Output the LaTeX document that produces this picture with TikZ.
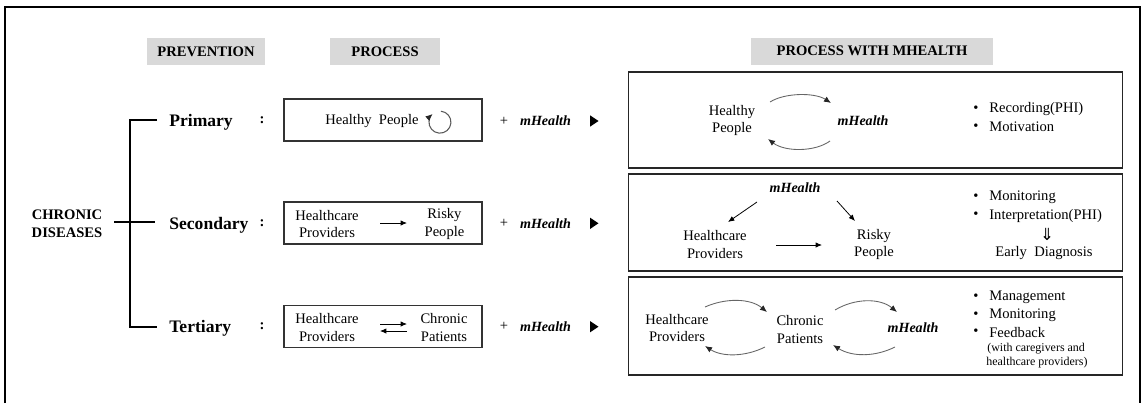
\documentclass[tikz,border=0pt]{standalone}
\usepackage{fontspec}
\setmainfont{Liberation Serif}
\newfontfamily\symfont{DejaVu Sans}
\usetikzlibrary{arrows.meta,calc}
\begin{document}
\begin{tikzpicture}[x=0.02cm,y=-0.02cm,
  font=\fontsize{8.3}{10}\selectfont,
  frame/.style={line width=0.7pt},
  hdr/.style={fill=black!15, font=\bfseries\fontsize{8.3}{10}\selectfont, inner sep=0pt, minimum height=0.54cm},
  pbox/.style={draw=black!80, line width=0.6pt, minimum width=3.96cm, minimum height=0.84cm, inner sep=0pt},
  rbox/.style={draw=black!85, line width=0.6pt, minimum width=9.9cm, inner sep=0pt},
  lvl/.style={font=\bfseries\fontsize{10}{12}\selectfont, anchor=west, inner sep=0pt},
  txt/.style={align=center, inner sep=0pt},
  mh/.style={font=\bfseries\itshape\fontsize{8}{10}\selectfont, inner sep=0pt},
  arr/.style={-{Latex[length=3.6pt,width=3pt]}, line width=0.45pt},
  garr/.style={-{Latex[length=4pt,width=3.4pt,color=black!85]}, line width=0.5pt, draw=black!60},
  bul/.style={anchor=west, inner sep=0pt},
  small/.style={anchor=west, inner sep=0pt, font=\fontsize{6.8}{8}\selectfont},
  brk/.style={line width=0.9pt},
  tri/.style={fill=black}
]
\useasboundingbox (0,0) rectangle (1142,403);
\draw[frame] (5,403) -- (5,7) -- (1140,7) -- (1140,403);

% headers
\node[hdr, minimum width=2.36cm] (hprev) at (206,51.5) {PREVENTION};
\node[hdr, minimum width=2.2cm] (hproc) at (385,51.5) {PROCESS};
\node[hdr, minimum width=4.84cm] (hmh) at (872,51) {PROCESS WITH MHEALTH};

% left tree
\node[txt, font=\bfseries\fontsize{8.3}{10}\selectfont] (cd) at (67,224) {CHRONIC\\DISEASES};
\coordinate (c0) at (114,222);
\coordinate (c1) at (155,222);
\coordinate (b1) at (130,120);
\coordinate (b3) at (130,327);
\coordinate (e1) at (157,120);
\coordinate (e3) at (157,327);
\draw[brk] (c0) -- (c1);
\draw[brk] (e1) -- (b1) -- (b3) -- (e3);

\node[lvl] (prim) at (169,122) {Primary};
\node[lvl] (sec) at (169,225) {Secondary};
\node[lvl] (ter) at (169,328) {Tertiary};
\node[inner sep=0pt, font=\bfseries\fontsize{8.3}{10}\selectfont] (col1) at (262,120) {:};
\node[inner sep=0pt, font=\bfseries\fontsize{8.3}{10}\selectfont] (col2) at (262,223) {:};
\node[inner sep=0pt, font=\bfseries\fontsize{8.3}{10}\selectfont] (col3) at (262,326) {:};

% process boxes
\node[pbox] (p1) at (383,120) {};
\node[pbox] (p2) at (383,223) {};
\node[pbox] (p3) at (383,326.5) {};

\node[txt] (p1hp) at (372,121) {Healthy\ \ People};
\coordinate (cst) at (440.9,111.2);
\draw[black!65, line width=0.6pt, -{Latex[length=4pt,width=3.6pt,color=black!85]}] (cst) arc[start angle=85, end angle=-228, radius=0.22cm];

\node[txt] (p2hc) at (327,224) {Healthcare\\Providers};
\node[txt] (p2rp) at (444.5,224) {Risky\\People};
\coordinate (p2a) at (380,223);
\coordinate (p2b) at (407,223);
\draw[arr] (p2a) -- (p2b);

\node[txt] (p3hc) at (327,327.5) {Healthcare\\Providers};
\node[txt] (p3cp) at (444,327.5) {Chronic\\Patients};
\coordinate (p3a) at (380,324);
\coordinate (p3b) at (407,324);
\coordinate (p3c) at (407,331);
\coordinate (p3d) at (380,331);
\draw[arr] (p3a) -- (p3b);
\draw[arr] (p3c) -- (p3d);

% + mHealth and triangles
\foreach \y/\n in {121/1,223.3/2,326.7/3}{
  \node[inner sep=0pt] (plus\n) at (504,\y) {+};
  \node[mh] (mhp\n) at (545.5,\y) {mHealth};
  \coordinate (t\n) at (590,\y);
  \fill[tri] ($(t\n)+(0,-5.7)$) -- ($(t\n)+(8.5,0)$) -- ($(t\n)+(0,5.7)$) -- cycle;
}

% right boxes
\node[rbox, minimum height=1.92cm] (r1) at (875.5,120) {};
\node[rbox, minimum height=1.94cm] (r2) at (875.5,222.5) {};
\node[rbox, minimum height=1.96cm] (r3) at (875.5,326) {};

% box 1
\node[txt] (r1hp) at (732,120.5) {Healthy\\People};
\node[mh] (r1mh) at (863,121) {mHealth};
\coordinate (r1a) at (770,102);
\coordinate (r1b) at (831,103);
\coordinate (r1c) at (830,141);
\coordinate (r1d) at (768,139);
\draw[garr] (r1a) .. controls (785,92.5) and (815,92.5) .. (r1b);
\draw[garr] (r1c) .. controls (815,152) and (785,152) .. (r1d);
\node[bul] (r1b1) at (973,109) {•};
\node[bul] (r1t1) at (989,109) {Recording(PHI)};
\node[bul] (r1b2) at (973,127) {•};
\node[bul] (r1t2) at (989,127) {Motivation};

% box 2
\node[mh] (r2mh) at (795,188) {mHealth};
\node[txt] (r2hc) at (715,244.5) {Healthcare\\Providers};
\node[txt] (r2rp) at (874,244.5) {Risky\\People};
\coordinate (r2a) at (757,202);
\coordinate (r2b) at (728,222);
\coordinate (r2c) at (837,201);
\coordinate (r2d) at (855,221);
\coordinate (r2e) at (776,245);
\coordinate (r2f) at (822,245);
\draw[arr] (r2a) -- (r2b);
\draw[arr] (r2c) -- (r2d);
\draw[arr] (r2e) -- (r2f);
\node[bul] (r2b1) at (973,197) {•};
\node[bul] (r2t1) at (989,197) {Monitoring};
\node[bul] (r2b2) at (973,215.5) {•};
\node[bul] (r2t2) at (989,215.5) {Interpretation(PHI)};
\node[inner sep=0pt, font=\symfont\fontsize{9.5}{11}\selectfont] (r2dn) at (1047,234) {⇓};
\node[inner sep=0pt] (r2ed) at (1044,253) {Early\ \ Diagnosis};

% box 3
\node[txt] (r3hc) at (677,328) {Healthcare\\Providers};
\node[txt] (r3cp) at (800,329.5) {Chronic\\Patients};
\node[mh] (r3mh) at (913,328) {mHealth};
\coordinate (r3a) at (705,307);
\coordinate (r3b) at (767,312);
\coordinate (r3c) at (765,347);
\coordinate (r3d) at (705,346);
\coordinate (r3e) at (835,310);
\coordinate (r3f) at (897,312);
\coordinate (r3g) at (895,347);
\coordinate (r3h) at (833,345);
\draw[garr] (r3a) .. controls (725,298) and (750,298) .. (r3b);
\draw[garr] (r3c) .. controls (745,357) and (722,357) .. (r3d);
\draw[garr] (r3e) .. controls (855,298) and (880,298) .. (r3f);
\draw[garr] (r3g) .. controls (875,357) and (852,357) .. (r3h);
\node[bul] (r3b1) at (973,297) {•};
\node[bul] (r3t1) at (989,297) {Management};
\node[bul] (r3b2) at (973,315.5) {•};
\node[bul] (r3t2) at (989,315.5) {Monitoring};
\node[bul] (r3b3) at (973,332.5) {•};
\node[bul] (r3t3) at (989,332.5) {Feedback};
\node[small] (r3s1) at (987,349) {(with caregivers and};
\node[small] (r3s2) at (986,363) {healthcare providers)};
\end{tikzpicture}
\end{document}
